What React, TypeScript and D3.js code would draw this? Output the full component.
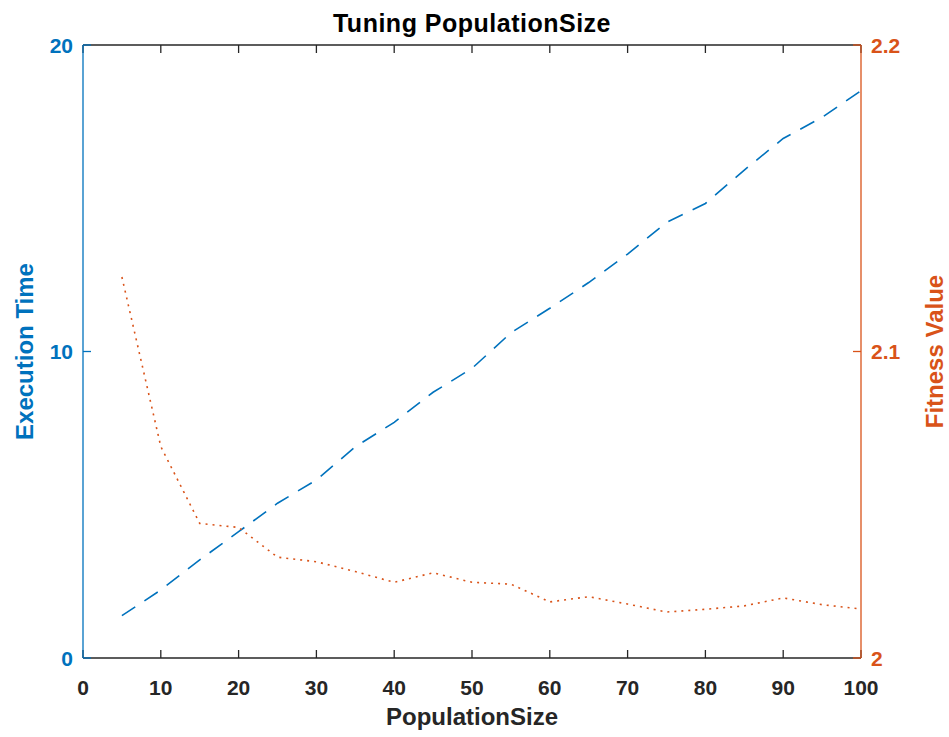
import React from "react";
import * as d3 from "d3";

const populationSize = [5, 10, 15, 20, 25, 30, 35, 40, 45, 50, 55, 60, 65, 70, 75, 80, 85, 90, 95, 100];
const executionTime = [1.38, 2.22, 3.2, 4.12, 5.05, 5.81, 6.89, 7.69, 8.67, 9.45, 10.61, 11.41, 12.25, 13.18, 14.21, 14.83, 15.92, 16.95, 17.64, 18.51];
const fitnessValue = [2.1243, 2.069, 2.0439, 2.0426, 2.0329, 2.0314, 2.0282, 2.0247, 2.0278, 2.0247, 2.0241, 2.0183, 2.02, 2.0176, 2.015, 2.0159, 2.017, 2.0196, 2.0174, 2.016];
const xTicks = [0, 10, 20, 30, 40, 50, 60, 70, 80, 90, 100];
const leftTicks = [0, 10, 20];
const rightTicks = [2, 2.1, 2.2];
const rightTickLabels = ["2", "2.1", "2.2"];

const BLUE = "#0072BD";
const ORANGE = "#D95319";
const DARK = "#262626";
const FONT = "'Liberation Sans', Arial, Helvetica, sans-serif";

export default function App() {
  const W = 949, H = 737;
  const L = 83, R = 861, T = 45, B = 658;
  const x = d3.scaleLinear().domain([0, 100]).range([L, R]);
  const yL = d3.scaleLinear().domain([0, 20]).range([B, T]);
  const yR = d3.scaleLinear().domain([2, 2.2]).range([B, T]);
  const lineL = d3.line<number>().x((_, i) => x(populationSize[i])).y((d) => yL(d));
  const lineR = d3.line<number>().x((_, i) => x(populationSize[i])).y((d) => yR(d));
  const tl = 8;
  return (
    <svg width={W} height={H} style={{ position: "absolute", left: 0, top: 0, background: "#fff" }} fontFamily={FONT}>
      <rect x={0} y={0} width={W} height={H} fill="#fff" />
      {/* data */}
      <path d={lineL(executionTime) || ""} fill="none" stroke={BLUE} strokeWidth={1.6} strokeDasharray="16 11" />
      <path d={lineR(fitnessValue) || ""} fill="none" stroke={ORANGE} strokeWidth={1.6} strokeDasharray="2 5" />
      {/* top and bottom axes */}
      <line x1={L} x2={R} y1={T} y2={T} stroke={DARK} strokeWidth={1.3} />
      <line x1={L} x2={R} y1={B} y2={B} stroke={DARK} strokeWidth={1.3} />
      {xTicks.map((t) => (
        <g key={"xt" + t}>
          <line x1={x(t)} x2={x(t)} y1={B} y2={B - tl} stroke={DARK} strokeWidth={1.3} />
          <line x1={x(t)} x2={x(t)} y1={T} y2={T + tl} stroke={DARK} strokeWidth={1.3} />
          <text x={x(t)} y={695} textAnchor="middle" fontSize={21} fontWeight="bold" fill={DARK}>{t}</text>
        </g>
      ))}
      {/* left axis */}
      <line x1={L} x2={L} y1={T} y2={B} stroke={BLUE} strokeWidth={1.3} />
      {leftTicks.map((t) => (
        <g key={"lt" + t}>
          <line x1={L} x2={L + tl} y1={yL(t)} y2={yL(t)} stroke={BLUE} strokeWidth={1.3} />
          <text x={73} y={yL(t) + 7.5} textAnchor="end" fontSize={21} fontWeight="bold" fill={BLUE}>{t}</text>
        </g>
      ))}
      {/* right axis */}
      <line x1={R} x2={R} y1={T} y2={B} stroke={ORANGE} strokeWidth={1.3} />
      {rightTicks.map((t, i) => (
        <g key={"rt" + t}>
          <line x1={R} x2={R - tl} y1={yR(t)} y2={yR(t)} stroke={ORANGE} strokeWidth={1.3} />
          <text x={871} y={yR(t) + 7.5} textAnchor="start" fontSize={21} fontWeight="bold" fill={ORANGE}>{rightTickLabels[i]}</text>
        </g>
      ))}
      {/* labels */}
      <text x={(L + R) / 2} y={32} textAnchor="middle" fontSize={25} fontWeight="bold" letterSpacing={0.5} fill="#000">Tuning PopulationSize</text>
      <text x={(L + R) / 2} y={725} textAnchor="middle" fontSize={24} fontWeight="bold" fill={DARK}>PopulationSize</text>
      <text transform={`translate(33, ${(T + B) / 2}) rotate(-90)`} textAnchor="middle" fontSize={24} fontWeight="bold" fill={BLUE}>Execution Time</text>
      <text transform={`translate(943, ${(T + B) / 2}) rotate(-90)`} textAnchor="middle" fontSize={24} fontWeight="bold" fill={ORANGE}>Fitness Value</text>
    </svg>
  );
}
